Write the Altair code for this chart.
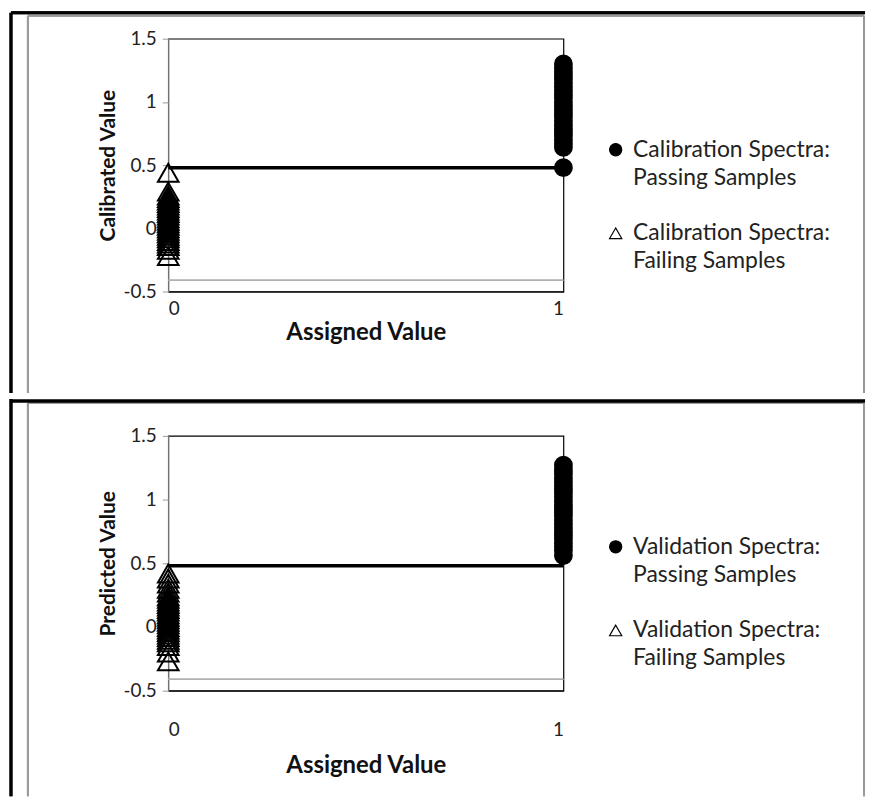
import altair as alt
import pandas as pd

FONT = "Lato"

# ---- data ----
assigned_ticks = [0, 1]
y_ticks = [-0.5, 0, 0.5, 1, 1.5]

cal_pass = [0.48, 0.64, 0.67, 0.70, 0.73, 0.76, 0.79, 0.82, 0.85, 0.88, 0.91, 0.94,
            0.97, 1.00, 1.03, 1.06, 1.09, 1.12, 1.15, 1.18, 1.21, 1.24, 1.27, 1.30]
cal_fail = [0.44, 0.29, 0.26, 0.24, 0.22, 0.20, 0.18, 0.16, 0.14, 0.12, 0.10, 0.08,
            0.06, 0.04, 0.02, 0.00, -0.02, -0.04, -0.06, -0.08, -0.10, -0.12,
            -0.14, -0.17, -0.22]
val_pass = [0.56, 0.60, 0.63, 0.66, 0.69, 0.72, 0.75, 0.78, 0.81, 0.84, 0.87, 0.90,
            0.93, 0.96, 0.99, 1.02, 1.05, 1.08, 1.11, 1.14, 1.17, 1.20, 1.23, 1.27]
val_fail = [0.42, 0.38, 0.34, 0.30, 0.27, 0.24, 0.22, 0.20, 0.18, 0.16, 0.14, 0.12,
            0.10, 0.08, 0.06, 0.04, 0.02, 0.00, -0.02, -0.04, -0.06, -0.08, -0.10,
            -0.12, -0.15, -0.20, -0.27]

threshold = [0.48, 0.48]
gray_level = -0.41

W = 397


def panel(pass_vals, fail_vals, prefix, ytitle, top):
    H = 254 if top else 256
    pass_label = prefix + " Spectra:|Passing Samples"
    fail_label = prefix + " Spectra:|Failing Samples"
    # legend rows: first line with symbol, second line without, blank row between
    dom = [pass_label, pass_label + "#2", " ", fail_label, fail_label + "#2"]
    pts = pd.DataFrame({
        "assigned": [1] * len(pass_vals) + [0] * len(fail_vals),
        "value": pass_vals + fail_vals,
        "series": [pass_label] * len(pass_vals) + [fail_label] * len(fail_vals),
    })
    thr = pd.DataFrame({"assigned": assigned_ticks, "value": threshold})

    xs = alt.Scale(domain=[0, 1], nice=False, zero=False)
    ys = alt.Scale(domain=[-0.5, 1.5], nice=False, zero=False)

    xax = alt.Axis(values=assigned_ticks, labelExpr="toString(datum.value)",
                   ticks=False, grid=False, domainColor="#000", domainWidth=1,
                   labelFont=FONT, labelFontSize=19, labelColor="#222",
                   labelPadding=8 if top else 30,
                   title="Assigned Value", titleFont=FONT, titleFontSize=24,
                   titleFontWeight="bold", titleColor="#111",
                   titlePadding=2 if top else 14)
    yax = alt.Axis(values=y_ticks, labelExpr="toString(datum.value)",
                   grid=False, tickColor="#999", tickSize=6, domainColor="#999",
                   labelFont=FONT, labelFontSize=19, labelColor="#222", labelPadding=6,
                   title=ytitle, titleFont=FONT, titleFontSize=21,
                   titleFontWeight="bold", titleColor="#111", titlePadding=4)

    line = alt.Chart(thr).mark_line(color="#000", strokeWidth=3.5).encode(
        x=alt.X("assigned:Q", scale=xs, axis=xax),
        y=alt.Y("value:Q", scale=ys, axis=yax),
    )
    gray = alt.Chart(thr).mark_rule(color="#b0b0b0", strokeWidth=1.5).encode(
        y=alt.datum(gray_level, scale=ys)
    )

    leg = alt.Legend(
        title=None, orient="none", legendX=438, legendY=100,
        labelExpr=("indexof(datum.label, '#2') >= 0 ? "
                   "replace(split(datum.label, '|')[1], '#2', '') : "
                   "split(datum.label, '|')[0]"),
        labelFont=FONT, labelFontSize=23, labelColor="#222",
        labelLimit=400, symbolSize=150, symbolStrokeWidth=1.2,
        rowPadding=4, labelOffset=6, padding=0, values=dom)

    shape_sc = alt.Scale(domain=dom, range=["circle", "M0,0", "M0,0", "triangle-up", "M0,0"])
    fill_sc = alt.Scale(domain=dom, range=["#000", "transparent", "transparent",
                                           "transparent", "transparent"])
    stroke_sc = alt.Scale(domain=dom, range=["#000", "transparent", "transparent",
                                             "#000", "transparent"])

    def pts_layer(series, size):
        return alt.Chart(pts).transform_filter(
            alt.datum.series == series
        ).mark_point(strokeWidth=2, opacity=1, size=size).encode(
            x=alt.X("assigned:Q", scale=xs),
            y=alt.Y("value:Q", scale=ys),
            shape=alt.Shape("series:N", scale=shape_sc, legend=leg),
            fill=alt.Fill("series:N", scale=fill_sc, legend=leg),
            stroke=alt.Stroke("series:N", scale=stroke_sc, legend=leg),
        )

    circles = pts_layer(pass_label, 285)
    triangles = pts_layer(fail_label, 430)

    # table cell decoration (not data)
    if top:
        ytop_black, ytop_gray, ybot = -26, -23, 356
    else:
        ytop_black, ytop_gray, ybot = -35, -33, 362
    deco = []
    deco.append(alt.Chart(thr).mark_rule(color="#9a9a9a", strokeWidth=2).encode(
        x=alt.value(-141), y=alt.value(ytop_gray), y2=alt.value(ybot)))
    deco.append(alt.Chart(thr).mark_rule(color="#9a9a9a", strokeWidth=2).encode(
        x=alt.value(699), y=alt.value(ytop_gray), y2=alt.value(ybot)))
    deco.append(alt.Chart(thr).mark_rule(color="#9a9a9a", strokeWidth=2).encode(
        x=alt.value(-141), x2=alt.value(699), y=alt.value(ytop_gray)))
    deco.append(alt.Chart(thr).mark_rule(color="#000", strokeWidth=3).encode(
        x=alt.value(-158), y=alt.value(ytop_black if top else -37), y2=alt.value(ybot)))
    deco.append(alt.Chart(thr).mark_rule(color="#000", strokeWidth=3).encode(
        x=alt.value(-158), x2=alt.value(700), y=alt.value(ytop_black)))

    return alt.layer(*deco, gray, line, circles, triangles).properties(width=W, height=H)


top_chart = panel(cal_pass, cal_fail, "Calibration", "Calibrated Value", True)
bottom_chart = panel(val_pass, val_fail, "Validation", "Predicted Value", False)

chart = alt.vconcat(top_chart, bottom_chart, spacing=0).properties(
    padding=0, background="white"
).configure_view(stroke="#000", strokeWidth=1.2).resolve_scale(
    shape="independent", fill="independent", stroke="independent")

chart.save("out.html", embed_options={"renderer": "svg", "actions": False})
